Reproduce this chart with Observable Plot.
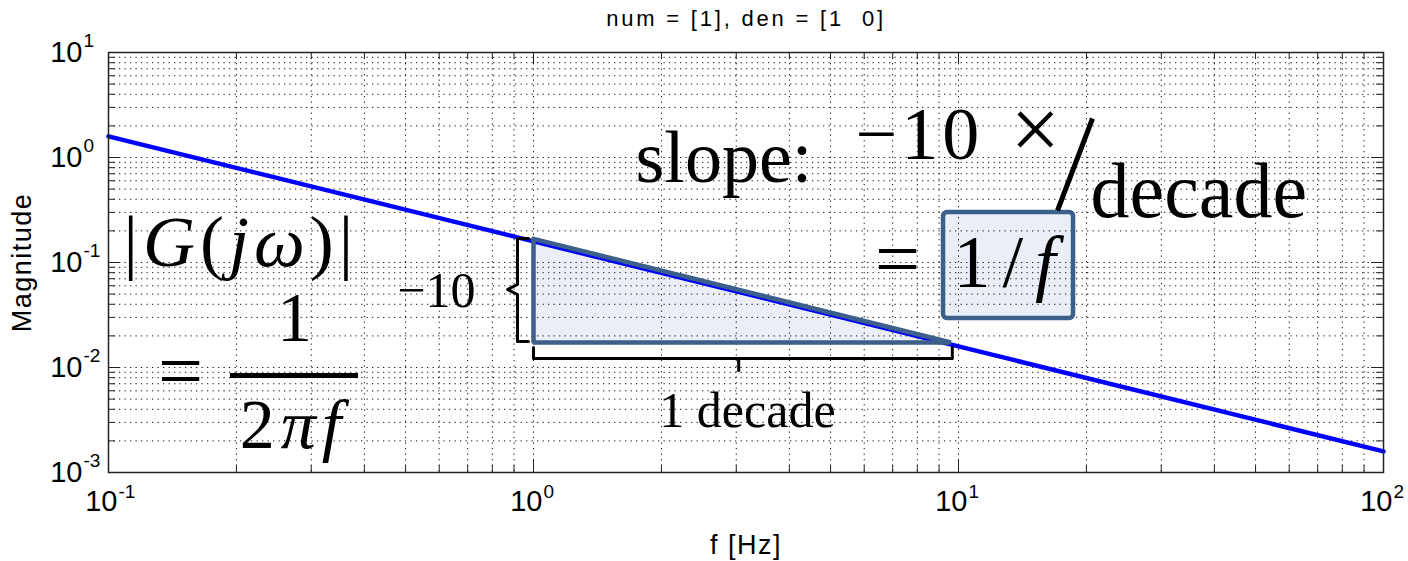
<!DOCTYPE html>
<html>
<head>
<meta charset="utf-8">
<script src="https://cdn.jsdelivr.net/npm/d3@7"></script>
<script src="https://cdn.jsdelivr.net/npm/@observablehq/plot@0.6"></script>
<style>
  html, body { margin: 0; padding: 0; background: #fff; }
  #chart svg { display: block; }
</style>
</head>
<body>
<div id="chart"></div>
<script>
// Magnitude of G(s) = 1/s (num = [1], den = [1 0]) at decade frequencies
const freq = [0.1, 1, 10, 100];
const magnitude = [1.59, 0.159, 0.0159, 0.00159];

// Decade tick labels (base 10 with exponent)
const xDecades = [0.1, 1, 10, 100];
const xExponents = ["-1", "0", "1", "2"];
const yDecades = [10, 1, 0.1, 0.01, 0.001];
const yExponents = ["1", "0", "-1", "-2", "-3"];

// Minor grid positions: 2..9 within every decade
const steps = [2, 3, 4, 5, 6, 7, 8, 9];
const xMinor = [0.1, 1, 10].flatMap(d => steps.map(k => +(k * d).toPrecision(3)));
const yMinor = [0.001, 0.01, 0.1, 1].flatMap(d => steps.map(k => +(k * d).toPrecision(3)));

// Slope triangle: one decade of frequency, one decade of magnitude
const triangleF = [1, 9.6, 1];
const triangleM = [0.168, 0.0173, 0.0173];

// Braces marking the rise (left) and the run (below)
const riseBraceF = [0.973, 0.917, 0.917, 0.869, 0.917, 0.917, 0.973];
const riseBraceM = [0.1693, 0.1693, 0.0617, 0.0553, 0.0496, 0.01769, 0.01769];
const runBraceF = [1, 1, 9.67, 9.67];
const runBraceM = [0.0155, 0.01218, 0.01218, 0.0155];
const runNubF = [3.04, 3.04];
const runNubM = [0.01218, 0.00936];

const lineData = freq.map((f, i) => ({f, m: magnitude[i]}));
const triLoop = [0, 1, 2, 0].map(i => ({f: triangleF[i], m: triangleM[i]}));
const riseBrace = riseBraceF.map((f, i) => ({f, m: riseBraceM[i]}));
const runBrace = runBraceF.map((f, i) => ({f, m: runBraceM[i]}));
const runNub = runNubF.map((f, i) => ({f, m: runNubM[i]}));

const SLATE = "#3d5f8c";
const PALE = "#e9eef7";
const SERIF = "Liberation Serif, Times New Roman, serif";
const SANS = "Liberation Sans, Arial, Helvetica, sans-serif";

// Rich text: "*...*" marks italic runs; spacing widens the glyph gaps
function formula(label, f, m, opts = {}, spacing = 0) {
  return Plot.text([label], {
    x: f, y: m, text: d => d,
    fontFamily: SERIF, fill: "#000", lineAnchor: "bottom",
    ariaDescription: `rich ${spacing}`,
    ...opts
  });
}
function label(text, opts, spacing = 0) {
  return Plot.text([text], {
    text: d => d, fill: "#000", fontFamily: SANS,
    ariaDescription: `rich ${spacing}`,
    ...opts
  });
}

const innerW = 1408 - 108 - 25;
const innerH = 561 - 52 - 89;
const GRID = {stroke: "#000", strokeOpacity: 0.9, strokeDasharray: "1.3,4.2"};

const chart = Plot.plot({
  width: 1408,
  height: 561,
  marginLeft: 108,
  marginRight: 25,
  marginTop: 52,
  marginBottom: 89,
  x: {type: "log", domain: [0.1, 100], axis: null},
  y: {type: "log", domain: [0.001, 10], axis: null},
  style: {fontFamily: SANS, background: "#fff", color: "#000"},
  marks: [
    // pale fills sit under the grid
    Plot.areaY([0, 1].map(i => ({f: triangleF[i], lo: triangleM[2], hi: triangleM[i]})),
      {x: "f", y1: "lo", y2: "hi", fill: PALE}),
    Plot.rect([0], {x1: 9.22, x2: 18.65, y1: 0.2994, y2: 0.02929, fill: PALE, rx: 4}),

    // dotted major + minor grid
    Plot.ruleX([...xMinor, 1, 10], GRID),
    Plot.ruleY([...yMinor, 1, 0.1, 0.01], GRID),

    // inward ticks on all four sides
    Plot.ruleX(xDecades, {insetBottom: innerH - 12, stroke: "#222"}),
    Plot.ruleX(xDecades, {insetTop: innerH - 12, stroke: "#222"}),
    Plot.ruleX(xMinor, {insetBottom: innerH - 7, stroke: "#222"}),
    Plot.ruleX(xMinor, {insetTop: innerH - 7, stroke: "#222"}),
    Plot.ruleY(yDecades, {insetRight: innerW - 12, stroke: "#222"}),
    Plot.ruleY(yDecades, {insetLeft: innerW - 12, stroke: "#222"}),
    Plot.ruleY(yMinor, {insetRight: innerW - 7, stroke: "#222"}),
    Plot.ruleY(yMinor, {insetLeft: innerW - 7, stroke: "#222"}),

    // |G(jw)|
    Plot.line(lineData, {x: "f", y: "m", stroke: "#0000ff", strokeWidth: 4.5}),

    // slope triangle outline and the answer box
    Plot.line(triLoop, {x: "f", y: "m", stroke: SLATE, strokeWidth: 4.5, strokeLinejoin: "miter"}),
    Plot.rect([0], {x1: 9.22, x2: 18.65, y1: 0.2994, y2: 0.02929, fill: "none", stroke: SLATE, strokeWidth: 4.5, rx: 4}),

    // braces
    Plot.line(riseBrace, {x: "f", y: "m", stroke: "#000", strokeWidth: 3, strokeLinejoin: "round"}),
    Plot.line(runBrace, {x: "f", y: "m", stroke: "#000", strokeWidth: 3, strokeLinejoin: "round"}),
    Plot.line(runNub, {x: "f", y: "m", stroke: "#000", strokeWidth: 3}),

    Plot.frame({stroke: "#222", strokeWidth: 1.5}),

    // tick labels
    Plot.text(yDecades, {y: d => d, frameAnchor: "left", text: () => "10", textAnchor: "end", lineAnchor: "middle", dx: -26, fontSize: 29, fill: "#000"}),
    Plot.text(yDecades, {y: d => d, frameAnchor: "left", text: (d, i) => yExponents[i], textAnchor: "start", lineAnchor: "middle", dx: -25, dy: -12, fontSize: 19, fill: "#000"}),
    Plot.text(xDecades, {x: d => d, frameAnchor: "bottom", text: () => "10", textAnchor: "end", lineAnchor: "middle", dx: 9, dy: 29, fontSize: 29, fill: "#000"}),
    Plot.text(xDecades, {x: d => d, frameAnchor: "bottom", text: (d, i) => xExponents[i], textAnchor: "start", lineAnchor: "middle", dx: 10, dy: 19, fontSize: 19, fill: "#000"}),

    // axis labels and title
    label("Magnitude", {frameAnchor: "left", dx: -86, rotate: -90, textAnchor: "middle", lineAnchor: "middle", fontSize: 27}, 1.5),
    label("f [Hz]", {frameAnchor: "bottom", dy: 73, textAnchor: "middle", lineAnchor: "middle", fontSize: 27}, 1.5),
    label("num = [1], den = [1  0]", {frameAnchor: "top", dy: -34, textAnchor: "middle", lineAnchor: "middle", fontSize: 22}, 2.8),

    // left formula: |G(jw)| = 1 / (2 pi f)
    formula("|*G*(*jω*)|", 0.1085, 0.0936, {fontSize: 72, textAnchor: "start"}, 5),
    formula("=", 0.1477, 0.005179, {fontSize: 80, textAnchor: "middle"}),
    formula("1", 0.274, 0.01807, {fontSize: 70, textAnchor: "middle"}),
    Plot.ruleY([0.0084], {x1: 0.1936, x2: 0.3876, stroke: "#000", strokeWidth: 5}),
    formula("2*πf*", 0.2724, 0.00173, {fontSize: 70, textAnchor: "middle"}, 6),

    // slope statement
    formula("slope:", 1.738, 0.578, {fontSize: 74, textAnchor: "start"}),
    formula("−10", 5.724, 0.978, {fontSize: 74, textAnchor: "start"}, 4),
    formula("×", 13.26, 0.978, {fontSize: 88, textAnchor: "start"}),
    Plot.link([0], {x1: 17.1, y1: 0.3128, x2: 20.67, y2: 2.352, stroke: "#000", strokeWidth: 5}),
    formula("decade", 20.45, 0.2742, {fontSize: 78, textAnchor: "start"}),
    formula("=", 7.186, 0.0591, {fontSize: 80, textAnchor: "middle"}),
    formula("1/*f*", 9.732, 0.0578, {fontSize: 74, textAnchor: "start"}, 12),

    // brace labels
    formula("−10", 0.7305, 0.03728, {fontSize: 50, textAnchor: "end"}),
    formula("1 decade", 3.188, 0.002683, {fontSize: 50, textAnchor: "middle"})
  ]
});

// Turn "*...*" runs into italic tspans and apply per-label spacing
d3.select(chart).selectAll('g[aria-description^="rich"]').each(function () {
  const spacing = +this.getAttribute("aria-description").split(" ")[1] || 0;
  d3.select(this).selectAll("text").each(function () {
    const t = d3.select(this);
    const parts = t.text().split("*");
    t.text(null);
    if (spacing) t.style("letter-spacing", spacing + "px");
    parts.forEach((p, i) => {
      if (!p) return;
      const span = t.append("tspan").text(p);
      if (i % 2) span.attr("font-style", "italic");
    });
  });
});

document.getElementById("chart").appendChild(chart);
</script>
</body>
</html>
